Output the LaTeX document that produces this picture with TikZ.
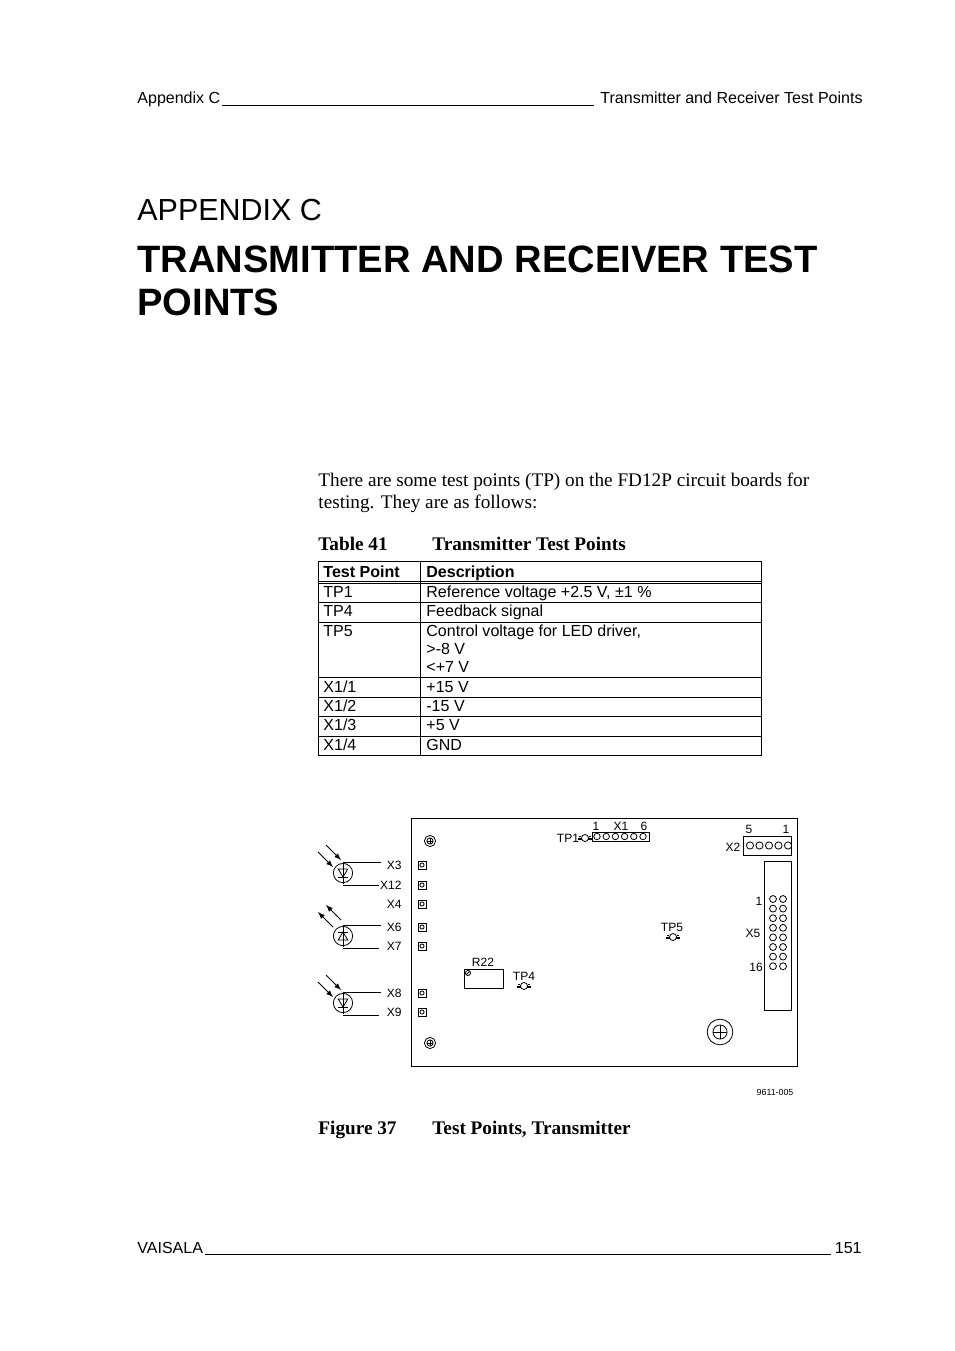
\documentclass[tikz,border=0pt]{standalone}
\usepackage{fontspec}
\setmainfont{Liberation Serif}
\newfontfamily\arial{Liberation Sans}
\usetikzlibrary{positioning}

\tikzset{
  txt/.style={inner sep=0pt,font=\arial\fontsize{10}{12}\selectfont},
  body/.style={inner sep=0pt,font=\fontsize{12}{14}\selectfont},
  lbl/.style={inner sep=0pt,font=\arial\fontsize{7.5}{9}\selectfont},
  pad/.style={draw,minimum size=5pt,inner sep=0pt},
  pin/.style={draw,circle,minimum size=4pt,inner sep=0pt},
}
\newcommand{\diode}[2]{% center, down/up
  \draw (#1) circle (6pt);
  \draw ([yshift=7pt]#1) -- ([yshift=-7pt]#1);
  \ifnum#2=1
    \draw ([shift={(-3pt,2.5pt)}]#1) -- ([shift={(3pt,2.5pt)}]#1) -- ([shift={(0,-2.5pt)}]#1) -- cycle;
    \draw ([shift={(-3pt,-2.5pt)}]#1) -- ([shift={(3pt,-2.5pt)}]#1);
  \else
    \draw ([shift={(-3pt,-2.5pt)}]#1) -- ([shift={(3pt,-2.5pt)}]#1) -- ([shift={(0,2.5pt)}]#1) -- cycle;
    \draw ([shift={(-3pt,2.5pt)}]#1) -- ([shift={(3pt,2.5pt)}]#1);
  \fi}
\newcommand{\screw}[2]{%
  \draw (#1) circle (#2); \draw (#1) circle (0.55*#2);
  \draw ([xshift=-0.55*#2]#1) -- ([xshift=0.55*#2]#1);
  \draw ([yshift=-0.55*#2]#1) -- ([yshift=0.55*#2]#1);}
\newcommand{\tpoint}[1]{%
  \draw (#1) circle (2.2pt);
  \draw ([xshift=-2.2pt]#1) rectangle ([shift={(-4pt,-1.1pt)}]#1);
  \draw ([shift={(-4pt,1.1pt)}]#1) -- ([shift={(-2.2pt,1.1pt)}]#1);
  \draw ([xshift=2.2pt]#1) rectangle ([shift={(4pt,-1.1pt)}]#1);
  \draw ([shift={(4pt,1.1pt)}]#1) -- ([shift={(2.2pt,1.1pt)}]#1);}

\begin{document}
\begin{tikzpicture}[x=0.624pt,y=-0.624pt,>=latex,line width=0.5pt]
  \useasboundingbox (0,0) rectangle (954,1351);

  % header and footer
  \node[txt,anchor=base west] (hl) at (137,104) {Appendix C};
  \node[txt,anchor=base east] (hr) at (863,104) {Transmitter and Receiver Test Points};
  \draw (222,105) -- (594,105);
  \node[txt,anchor=base west] (fl) at (137,1253) {VAISALA};
  \node[txt,anchor=base east] (fr) at (862,1253) {151};
  \draw (205,1254) -- (831,1254);

  % title
  \node[inner sep=0pt,anchor=west,font=\arial\fontsize{19}{22}\selectfont] (app) at (137,210) {APPENDIX C};
  \node[inner sep=0pt,anchor=west,font=\arial\bfseries\fontsize{23.8}{28}\selectfont] (t1) at (137,259) {TRANSMITTER AND RECEIVER TEST};
  \node[inner sep=0pt,anchor=west,font=\arial\bfseries\fontsize{23.8}{28}\selectfont] (t2) at (137,302) {POINTS};

  % body text
  \node[body,anchor=base west] (p1) at (318,486) {There are some test points (TP) on the FD12P circuit boards for};
  \node[body,anchor=base west] (p2) at (318,508) {testing. They are as follows:};
  \node[body,anchor=base west,font=\bfseries\fontsize{12}{14}\selectfont] (tc1) at (318,550) {Table 41};
  \node[body,anchor=base west,font=\bfseries\fontsize{12}{14}\selectfont] (tc2) at (432,550) {Transmitter Test Points};

  % table
  \draw (318,561) rectangle (761,755);
  \draw (420,561) -- (420,755);
  \foreach \y in {581,583,602,622,677,697,716,736} \draw (318,\y) -- (761,\y);
  \node[txt,anchor=base west,font=\arial\bfseries\fontsize{10}{12}\selectfont] at (323,577) {Test Point};
  \node[txt,anchor=base west,font=\arial\bfseries\fontsize{10}{12}\selectfont] at (426,577) {Description};
  \foreach \y/\a/\b in {597/TP1/{Reference voltage +2.5 V, \textpm1 \%},616/TP4/Feedback signal,636/TP5/{Control voltage for LED driver,},
      692/X1\slash1/+15 V,711/X1\slash2/-15 V,730/X1\slash3/+5 V,750/X1\slash4/GND}
    {\node[txt,anchor=base west] at (323,\y) {\a}; \node[txt,anchor=base west] at (426,\y) {\b};}
  \node[txt,anchor=base west] at (426,654) {>-8 V};
  \node[txt,anchor=base west] at (426,672) {<+7 V};

  % board
  \draw (411,818) rectangle (797,1066);
  \screw{430,841}{3.5pt}
  \screw{430,1043}{3.5pt}
  \screw{720,1032}{8pt}
  \foreach \y/\n in {865/X3,885/X12,904/X4,927/X6,946/X7,993/X8,1012/X9} {
    \node[pad] (p\n) at (422,\y) {};
    \node[pin,minimum size=2.6pt] at (422,\y) {};
    \node[lbl,anchor=east] (l\n) at (402,\y) {\n};
  }
  % diodes
  \foreach \c/\k in {873/1,936/0,1003/1} {
    \diode{343,\c}{\k}
    \draw (343,\c-11) -- (381,\c-11);
    \draw (343,\c+12) -- (379,\c+12);
  }
  \draw[->] (318,852) -- (333,867); \draw[->] (326,845) -- (341,860);
  \draw[<-] (318,912) -- (333,927); \draw[<-] (326,905) -- (341,920);
  \draw[->] (318,982) -- (333,997); \draw[->] (326,975) -- (341,990);

  % R22, TP4, TP5
  \draw (464,969) rectangle (503,988);
  \draw (468,973) circle (1.6pt); \draw (466,975) -- (470,971);
  \node[lbl] (r22) at (483,962) {R22};
  \node[lbl] (tp4) at (524,976) {TP4};
  \tpoint{524,986}
  \node[lbl] (tp5) at (672,927) {TP5};
  \tpoint{673,937}

  % X1, TP1
  \draw (592,832) rectangle (649,841);
  \foreach \i in {0,...,5} \node[pin] at (597+9.2*\i,836.5) {};
  \node[lbl] at (596,826) {1};
  \node[lbl] at (621,826) {X1};
  \node[lbl] at (644,826) {6};
  \node[lbl] (tp1) at (568,838) {TP1};
  \tpoint{585,838}

  % X2
  \draw (743,836) rectangle (791,855);
  \foreach \i in {0,...,4} \node[pin,minimum size=4.5pt] at (750+9.5*\i,845.5) {};
  \node[lbl] at (749,829) {5};
  \node[lbl] at (786,829) {1};
  \node[lbl] at (733,847) {X2};

  % X5
  \draw (764,861) rectangle (791,1010);
  \foreach \r in {0,...,7} {
    \node[pin,minimum size=4.3pt] at (773,899+9.6*\r) {};
    \node[pin,minimum size=4.3pt] at (783,899+9.6*\r) {};
  }
  \node[lbl] at (759,901) {1};
  \node[lbl] at (753,933) {X5};
  \node[lbl] at (756,967) {16};

  \node[inner sep=0pt,font=\arial\fontsize{5.5}{6}\selectfont] (fid) at (775,1092) {9611-005};
  \node[body,anchor=base west,font=\bfseries\fontsize{12}{14}\selectfont] (fc1) at (318,1134) {Figure 37};
  \node[body,anchor=base west,font=\bfseries\fontsize{12}{14}\selectfont] (fc2) at (432,1134) {Test Points, Transmitter};
\end{tikzpicture}
\end{document}
